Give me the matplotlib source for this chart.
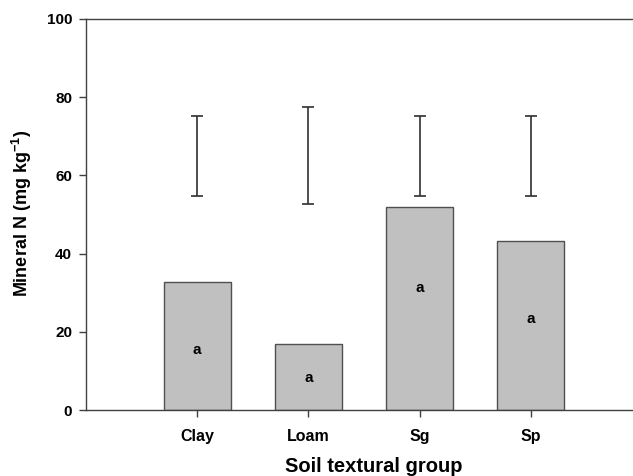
import matplotlib
matplotlib.use("Agg")
import matplotlib.pyplot as plt
import numpy as np

plt.rcParams['font.family'] = ['Liberation Sans', 'DejaVu Sans']
plt.rcParams['mathtext.default'] = 'regular'

categories = ["Clay", "Loam", "Sg", "Sp"]
means = [32.8, 16.9, 52.0, 43.2]
err_low = [54.7, 52.6, 54.7, 54.7]
err_high = [75.3, 77.6, 75.3, 75.3]
letters = ["a", "a", "a", "a"]
letter_y = [15.3, 8.2, 31.2, 23.3]
yticks = [0, 20, 40, 60, 80, 100]

fig = plt.figure(figsize=(6.33, 4.76), dpi=100)
ax = fig.add_axes([86/633, 1-410/476, 556/633, (410-19)/476])

x = np.arange(len(categories))
ax.bar(x, means, width=0.6, color="#c0c0c0", edgecolor="#505050", linewidth=1.0, zorder=2)

centers = [(l + h) / 2 for l, h in zip(err_low, err_high)]
half = [(h - l) / 2 for l, h in zip(err_low, err_high)]
ax.errorbar(x, centers, yerr=half, fmt='none', ecolor="#303030", elinewidth=1.2,
            capsize=4.3, capthick=1.2, zorder=3)

for xi, yi, t in zip(x, letter_y, letters):
    ax.text(xi, yi, t, ha='center', va='center', fontsize=11, fontweight='bold', color='black')

ax.set_xlim(-1, 4)
ax.set_ylim(0, 100)
ax.set_xticks(x)
ax.set_xticklabels(categories, fontsize=11.5, fontweight='bold')
ax.set_yticks(yticks)
ax.set_yticklabels([str(v) for v in yticks], fontsize=11, fontweight='bold')
ax.tick_params(axis='both', direction='out', length=5, width=1, color="#404040")
ax.tick_params(axis='y', pad=5)
ax.tick_params(axis='x', pad=9)

for s in ['left', 'bottom', 'top']:
    ax.spines[s].set_color("#404040")
    ax.spines[s].set_linewidth(1.0)
ax.spines['right'].set_visible(False)

xl = ax.set_xlabel("Soil textural group", fontsize=14.5, fontweight='bold')
xl.set_va('baseline')
ax.xaxis.set_label_coords((374 - 86) / 556, (410 - 472) / 391)

yl = ax.set_ylabel("Mineral N (mg kg$^{-1}$)", fontsize=13, fontweight='bold')
yl.set_va('center')
ax.yaxis.set_label_coords((22 - 86) / 556, (410 - 213) / 391)

fig.savefig("out.png", dpi=100)
